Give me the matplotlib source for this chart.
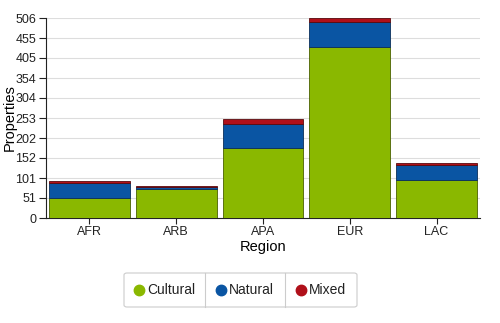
import matplotlib.pyplot as plt
import numpy as np
from matplotlib.patches import FancyBboxPatch
from matplotlib.lines import Line2D

plt.rcParams['font.family'] = ['Liberation Sans', 'DejaVu Sans']

regions = ['AFR', 'ARB', 'APA', 'EUR', 'LAC']
cultural = [51, 73, 176, 434, 96]
natural = [38, 5, 62, 61, 37]
mixed = [4, 3, 12, 10, 5]
series = ['Cultural', 'Natural', 'Mixed']
colors = ['#8ab800', '#0a55a3', '#b0101a']
edges = ['#4a6000', '#0a2f5a', '#5a0a0e']
y_ticks = [0, 51, 101, 152, 202, 253, 304, 354, 405, 455, 506]

fig = plt.figure(figsize=(5, 3.23), dpi=100)
ax = fig.add_axes([0.092, 0.325, 0.868, 0.619])

x = np.arange(len(regions))
bottom = np.zeros(len(regions))
for vals, c, e in zip([cultural, natural, mixed], colors, edges):
    ax.bar(x, vals, bottom=bottom, width=0.93, color=c, edgecolor=e, linewidth=0.6, zorder=3)
    bottom += np.array(vals)

ax.set_xlim(-0.5, len(regions) - 0.5)
ax.set_ylim(0, 506)
ax.set_yticks(y_ticks)
ax.set_xticks(x)
ax.set_xticklabels(regions)
ax.tick_params(axis='both', labelsize=9, colors='#222222', length=4, width=0.8, pad=2)
ax.tick_params(axis='y', length=5)
ax.grid(axis='y', color='#dddddd', linewidth=0.8, zorder=0)
for s in ['top', 'right']:
    ax.spines[s].set_visible(False)
ax.spines['left'].set_color('#222222')
ax.spines['bottom'].set_color('#222222')
ax.set_xlabel('Region', fontsize=10.5, labelpad=1)
ax.set_ylabel('Properties', fontsize=10.5, va='center')
ax.yaxis.set_label_coords(-0.084, 0.5)

# legend box with separators
W, H = 500, 323
box_l, box_r, box_t, box_b = 124, 357, 273, 307
fig.patches.append(FancyBboxPatch((box_l / W, 1 - box_b / H), (box_r - box_l) / W, (box_b - box_t) / H,
                                  boxstyle='round,pad=0,rounding_size=0.006', transform=fig.transFigure,
                                  facecolor='white', edgecolor='#cccccc', linewidth=0.8))
for xd in [205, 285]:
    fig.lines.append(Line2D([xd / W, xd / W], [1 - box_b / H, 1 - box_t / H], transform=fig.transFigure,
                            color='#cccccc', linewidth=0.8))
for name, c, cx in zip(series, colors, [139, 221, 301]):
    fig.lines.append(Line2D([cx / W], [1 - 290 / H], transform=fig.transFigure, marker='o',
                            markersize=7.5, color=c, linestyle='none'))
    fig.text((cx + 8) / W, 1 - 290 / H, name, fontsize=10, va='center', ha='left', color='#222222')

fig.savefig('out.png', dpi=100)
